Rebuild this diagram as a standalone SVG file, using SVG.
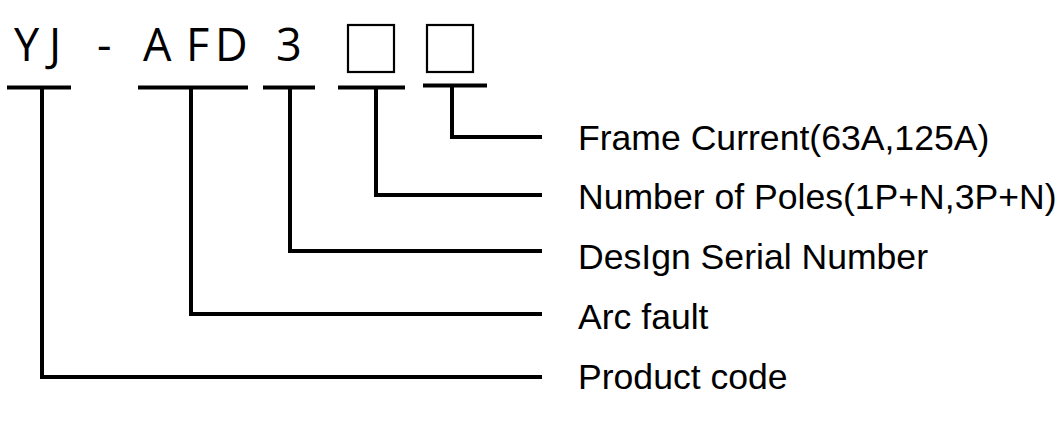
<svg xmlns="http://www.w3.org/2000/svg" width="1064" height="424" viewBox="0 0 1064 424">
<style>
.code{font-family:"Open Sans","DejaVu Sans",sans-serif;font-size:45px;fill:#000}
.lbl{font-family:"Liberation Sans",Arial,sans-serif;font-size:35.6px;fill:#000}
.box{fill:none;stroke:#000;stroke-width:2.2}
.ln{fill:none;stroke:#000;stroke-width:4;stroke-linecap:butt;stroke-linejoin:miter}
</style>
<rect width="1064" height="424" fill="#fff"/>
<g id="code">
<text class="code" x="14 49 97 143 186 215 276" y="61">YJ-AFD3</text>
<rect class="box" x="348" y="25" width="46" height="47"/>
<rect class="box" x="427" y="25" width="46" height="47"/>
</g>
<g id="connectors">
<line class="ln" x1="7" y1="87.5" x2="71" y2="87.5"/>
<line class="ln" x1="138" y1="87.5" x2="248" y2="87.5"/>
<line class="ln" x1="263" y1="87.5" x2="315" y2="87.5"/>
<line class="ln" x1="338" y1="87.5" x2="405" y2="87.5"/>
<line class="ln" x1="423" y1="85.5" x2="487" y2="85.5"/>
<polyline class="ln" points="42,87.5 42,377 542,377"/>
<polyline class="ln" points="191,87.5 191,314 542,314"/>
<polyline class="ln" points="290,87.5 290,251 542,251"/>
<polyline class="ln" points="376,87.5 376,195 542,195"/>
<polyline class="ln" points="452,85.5 452,137 542,137"/>
</g>
<g id="label-frame"><text class="lbl" x="578" y="150">Frame Current(63A,125A)</text></g>
<g id="label-poles"><text class="lbl" x="578" y="209">Number of Poles(1P+N,3P+N)</text></g>
<g id="label-design"><text class="lbl" x="578" y="269">DesIgn Serial Number</text></g>
<g id="label-arc"><text class="lbl" x="578" y="329">Arc fault</text></g>
<g id="label-product"><text class="lbl" x="578" y="389">Product code</text></g>
</svg>
